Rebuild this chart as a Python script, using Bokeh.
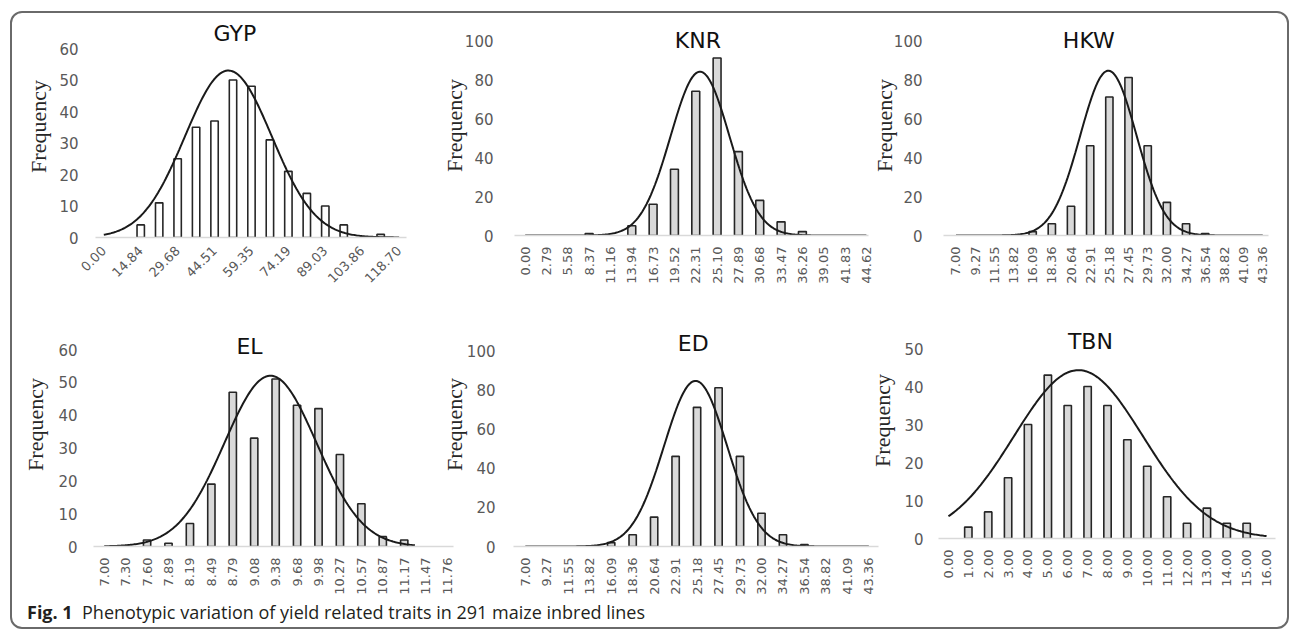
import math
import numpy as np
from bokeh.plotting import figure
from bokeh.layouts import row, column
from bokeh.models import ColumnDataSource, FixedTicker, Label, Range1d, Div
from bokeh.embed import file_html
from bokeh.resources import INLINE

# ---------------- data ----------------
gyp_labels = ["0.00", "14.84", "29.68", "44.51", "59.35", "74.19", "89.03", "103.86", "118.70"]
gyp_counts = [0, 0, 4, 11, 25, 35, 37, 50, 48, 31, 21, 14, 10, 4, 0, 1, 0]
gyp_fit = (53.0, 6.75, 2.35)         # peak, centre (bin), sd (bins)

knr_labels = ["0.00", "2.79", "5.58", "8.37", "11.16", "13.94", "16.73", "19.52", "22.31",
              "25.10", "27.89", "30.68", "33.47", "36.26", "39.05", "41.83", "44.62"]
knr_counts = [0, 0, 0, 1, 0, 5, 16, 34, 74, 91, 43, 18, 7, 2, 0, 0, 0]
knr_fit = (84.0, 8.2, 1.38)

hkw_labels = ["7.00", "9.27", "11.55", "13.82", "16.09", "18.36", "20.64", "22.91", "25.18",
              "27.45", "29.73", "32.00", "34.27", "36.54", "38.82", "41.09", "43.36"]
hkw_counts = [0, 0, 0, 0, 2, 6, 15, 46, 71, 81, 46, 17, 6, 1, 0, 0, 0]
hkw_fit = (84.5, 7.95, 1.47)

el_labels = ["7.00", "7.30", "7.60", "7.89", "8.19", "8.49", "8.79", "9.08", "9.38",
             "9.68", "9.98", "10.27", "10.57", "10.87", "11.17", "11.47", "11.76"]
el_counts = [0, 0, 2, 1, 7, 19, 47, 33, 51, 43, 42, 28, 13, 3, 2, 0, 0]
el_fit = (52.0, 7.76, 2.15)

ed_labels = ["7.00", "9.27", "11.55", "13.82", "16.09", "18.36", "20.64", "22.91", "25.18",
             "27.45", "29.73", "32.00", "34.27", "36.54", "38.82", "41.09", "43.36"]
ed_counts = [0, 0, 0, 0, 2, 6, 15, 46, 71, 81, 46, 17, 6, 1, 0, 0, 0]
ed_fit = (84.5, 7.93, 1.47)

tbn_labels = ["0.00", "1.00", "2.00", "3.00", "4.00", "5.00", "6.00", "7.00", "8.00",
              "9.00", "10.00", "11.00", "12.00", "13.00", "14.00", "15.00", "16.00"]
tbn_counts = [0, 3, 7, 16, 30, 43, 35, 40, 35, 26, 19, 11, 4, 8, 4, 4, 0]
tbn_fit = (44.3, 6.54, 3.25)

caption_bold = "Fig. 1"
caption_text = "Phenotypic variation of yield related traits in 291 maize inbred lines"

# ---------------- layout / style per panel ----------------
# tpos: title centre (bin index) and title baseline (page px)
top_panels = [
    dict(title="GYP", labels=gyp_labels, tick_step=2, counts=gyp_counts, fit=gyp_fit, span=(0, 16),
         idx0=103, sp=18.4375, xr=(-0.45, 16.4), y0=237, ytop=48, ymax=60, ystep=10,
         orient=math.pi / 4, tstand=17, alstand=5, fill="#ffffff", bw=0.40, tpos=(7.1, 33)),
    dict(title="KNR", labels=knr_labels, tick_step=1, counts=knr_counts, fit=knr_fit, span=(0, 16),
         idx0=525, sp=21.3, xr=(-0.5, 16.1), y0=235, ytop=40, ymax=100, ystep=20,
         orient=math.pi / 2, tstand=21, alstand=-5, fill="#d9d9d9", bw=0.37, tpos=(8.1, 40)),
    dict(title="HKW", labels=hkw_labels, tick_step=1, counts=hkw_counts, fit=hkw_fit, span=(0, 16),
         idx0=955, sp=19.19, xr=(-0.65, 16.3), y0=235, ytop=40, ymax=100, ystep=20,
         orient=math.pi / 2, tstand=21, alstand=-6, fill="#d9d9d9", bw=0.38, tpos=(6.93, 40)),
]
bot_panels = [
    dict(title="EL", labels=el_labels, tick_step=1, counts=el_counts, fit=el_fit, span=(0, 14.5),
         idx0=104, sp=21.4, xr=(-0.5, 16.3), y0=546, ytop=349, ymax=60, ystep=10,
         orient=math.pi / 2, tstand=16, alstand=7, fill="#d9d9d9", bw=0.34, tpos=(6.78, 346)),
    dict(title="ED", labels=ed_labels, tick_step=1, counts=ed_counts, fit=ed_fit, span=(0, 16),
         idx0=525, sp=21.47, xr=(-0.55, 16.45), y0=546, ytop=350, ymax=100, ystep=20,
         orient=math.pi / 2, tstand=18, alstand=-3, fill="#d9d9d9", bw=0.34, tpos=(7.82, 343)),
    dict(title="TBN", labels=tbn_labels, tick_step=1, counts=tbn_counts, fit=tbn_fit, span=(0, 16),
         idx0=948, sp=19.875, xr=(-0.5, 16.45), y0=538, ytop=348, ymax=50, ystep=10,
         orient=math.pi / 2, tstand=15, alstand=6, fill="#d9d9d9", bw=0.37, tpos=(7.14, 341)),
]

CONTENT_X = 12        # page x of the framed box's inner left edge
CONTENT_RIGHT = 1287
LEFT_B = 80


def make_row(panels, row_top, row_bottom):
    figs = []
    prev_right = CONTENT_X
    for i, c in enumerate(panels):
        sp = c["sp"]
        x0, x1 = c["xr"]
        frame_left = int(round(c["idx0"] + x0 * sp))
        frame_w = int(round((x1 - x0) * sp))
        frame_right = frame_left + frame_w
        scale = (c["y0"] - c["ytop"]) / c["ymax"]      # px per unit
        ftop = row_top + 2                               # frame extended upward (invisible)
        frame_h = c["y0"] - ftop
        y_end = frame_h / scale
        fig_left = frame_left - LEFT_B
        m_left = fig_left - prev_right
        right_b = 6 if i < len(panels) - 1 else max(2, CONTENT_RIGHT - frame_right)
        p = figure(frame_width=frame_w, frame_height=frame_h,
                   min_border_left=LEFT_B, min_border_right=right_b,
                   min_border_top=ftop - row_top, min_border_bottom=row_bottom - c["y0"],
                   x_range=Range1d(x0, x1), y_range=Range1d(0, y_end),
                   output_backend="svg", toolbar_location=None,
                   background_fill_color=None, border_fill_color=None,
                   outline_line_color=None, margin=(0, 0, 0, m_left))
        prev_right = fig_left + LEFT_B + frame_w + right_b
        p.grid.visible = False

        # bars
        idx = [k for k, v in enumerate(c["counts"]) if v > 0]
        src = ColumnDataSource(dict(x=idx, top=[c["counts"][k] for k in idx]))
        p.vbar(x="x", top="top", bottom=0, width=c["bw"], source=src,
               fill_color=c["fill"], line_color="#262626", line_width=1.6)

        # fitted normal curve
        peak, mu, sd = c["fit"]
        xs = np.linspace(c["span"][0], c["span"][1], 240)
        ys = peak * np.exp(-((xs - mu) ** 2) / (2 * sd * sd))
        p.line(xs, ys, line_color="#1a1a1a", line_width=2)

        # x axis
        n = len(c["counts"])
        ticks = list(range(0, n, c["tick_step"]))
        xa = p.xaxis[0]
        xa.ticker = FixedTicker(ticks=ticks)
        xa.major_label_overrides = {t: lab for t, lab in zip(ticks, c["labels"])}
        xa.major_label_orientation = c["orient"]
        xa.axis_line_color = "#d9d9d9"
        xa.axis_line_width = 1.5
        xa.major_tick_line_color = None
        xa.minor_tick_line_color = None
        xa.major_tick_out = 0
        xa.major_tick_in = 0
        xa.minor_tick_out = 0
        xa.minor_tick_in = 0
        xa.major_label_standoff = 11
        xa.major_label_text_font = "DejaVu Sans"
        xa.major_label_text_font_size = "13px"
        xa.major_label_text_color = "#595959"

        # y axis
        ya = p.yaxis[0]
        ya.ticker = FixedTicker(ticks=list(range(0, c["ymax"] + 1, c["ystep"])))
        ya.axis_line_color = None
        ya.major_tick_line_color = None
        ya.minor_tick_line_color = None
        ya.major_tick_out = 0
        ya.major_tick_in = 0
        ya.minor_tick_out = 0
        ya.minor_tick_in = 0
        ya.major_label_standoff = c["tstand"]
        ya.major_label_text_font = "DejaVu Sans"
        ya.major_label_text_font_size = "15px"
        ya.major_label_text_color = "#595959"
        ya.axis_label = "Frequency"
        ya.axis_label_text_font = "Liberation Serif"
        ya.axis_label_text_font_style = "normal"
        ya.axis_label_text_font_size = "22px"
        ya.axis_label_text_color = "#262626"
        ya.axis_label_standoff = c["alstand"]

        # panel title (baseline given in page px -> data units)
        ty = (c["y0"] - c["tpos"][1]) / scale
        p.add_layout(Label(x=c["tpos"][0], y=ty, text=c["title"],
                           text_align="center", text_baseline="alphabetic",
                           text_font="DejaVu Sans", text_font_size="22px",
                           text_color="#111111"))
        figs.append(p)
    return row(*figs, spacing=0)


top = make_row(top_panels, 13, 300)
bot = make_row(bot_panels, 300, 597)

cap = Div(text=('<span style="font-family:\'Open Sans\';font-size:18px;color:#231f20;white-space:nowrap">'
                f'<b>{caption_bold}</b>&nbsp;&nbsp;{caption_text}</span>'),
          width=760, height=27, margin=(3, 0, 0, 15))

layout = column(top, bot, cap, spacing=0, margin=(11, 0, 0, 10),
                styles={"border": "2px solid #6a6a6a", "border-radius": "12px"})

open("out.html", "w").write(file_html(layout, INLINE))
